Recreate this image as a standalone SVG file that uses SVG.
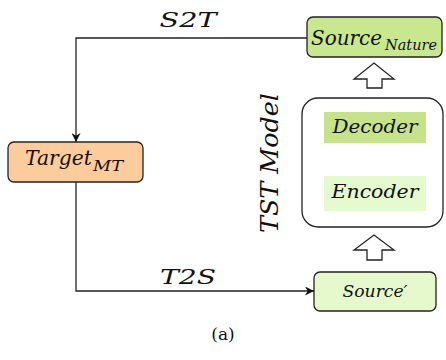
<svg xmlns="http://www.w3.org/2000/svg" width="446" height="360" viewBox="0 0 446 360">
<style>
.box{stroke:#222;stroke-width:1.3}
.ln{fill:none;stroke:#222;stroke-width:1.3}
text{font-family:'DejaVu Serif',serif}
.m{font-style:italic;fill:#111}
.hollow{fill:#fff;stroke:#222;stroke-width:1.3;stroke-linejoin:miter}
</style>
<defs>
<marker id="ah" viewBox="0 0 10 10" refX="10" refY="5" markerWidth="9" markerHeight="9" markerUnits="userSpaceOnUse" orient="auto">
<path d="M0,0 L10,5 L0,10 L3,5 Z" fill="#111"/>
</marker>
</defs>
<rect width="446" height="360" fill="#fff"/>
<g id="connectors">
<path class="ln" d="M307,38 H76 V142" marker-end="url(#ah)"/>
<path class="ln" d="M76,182 V291 H314" marker-end="url(#ah)"/>
<path class="ln" d="M375,176 V145" marker-end="url(#ah)"/>
<path class="hollow" d="M367,88 V79 H354 L374,63 L394,79 H382 V88 Z"/>
<path class="hollow" d="M367,260 V250 H354 L374,235 L394,250 H382 V260 Z"/>
<text class="m" x="188" y="27" font-size="20" text-anchor="middle" textLength="57" lengthAdjust="spacingAndGlyphs">S2T</text>
<text class="m" x="188" y="284" font-size="20" text-anchor="middle" textLength="56" lengthAdjust="spacingAndGlyphs">T2S</text>
</g>
<g id="source-nature">
<rect class="box" x="307" y="17" width="135" height="40" rx="6" fill="#c9e78f"/>
<text class="m" x="311" y="45" font-size="21" textLength="71" lengthAdjust="spacingAndGlyphs">Source</text>
<text class="m" x="385" y="50" font-size="15" textLength="52" lengthAdjust="spacingAndGlyphs">Nature</text>
</g>
<g id="target-mt">
<rect class="box" x="8" y="142" width="135" height="40" rx="6" fill="#fdcc9c"/>
<text class="m" x="25" y="165" font-size="20" textLength="67" lengthAdjust="spacingAndGlyphs">Target</text>
<text class="m" x="93" y="171" font-size="15" textLength="30" lengthAdjust="spacingAndGlyphs">MT</text>
</g>
<g id="tst-model">
<rect class="box" x="302" y="98" width="141" height="129" rx="16" fill="#fff"/>
<text class="m" transform="translate(278,163) rotate(-90)" font-size="25" text-anchor="middle" textLength="140" lengthAdjust="spacingAndGlyphs">TST Model</text>
</g>
<g id="decoder">
<rect x="324" y="112" width="102" height="31" fill="#c6e38b"/>
<text class="m" x="375" y="133" font-size="18" text-anchor="middle" textLength="85" lengthAdjust="spacingAndGlyphs">Decoder</text>
</g>
<g id="encoder">
<rect x="324" y="176" width="102" height="35" fill="#e6fad0"/>
<text class="m" x="375" y="198" font-size="18" text-anchor="middle" textLength="87" lengthAdjust="spacingAndGlyphs">Encoder</text>
</g>
<g id="source-prime">
<rect class="box" x="314" y="272" width="122" height="39" rx="6" fill="#e5f9cc"/>
<text class="m" x="375" y="297" font-size="16" text-anchor="middle" textLength="65" lengthAdjust="spacingAndGlyphs">Source′</text>
</g>
<text x="223" y="340" font-size="17" text-anchor="middle" fill="#111" font-family="Liberation Serif,serif">(a)</text>
</svg>
